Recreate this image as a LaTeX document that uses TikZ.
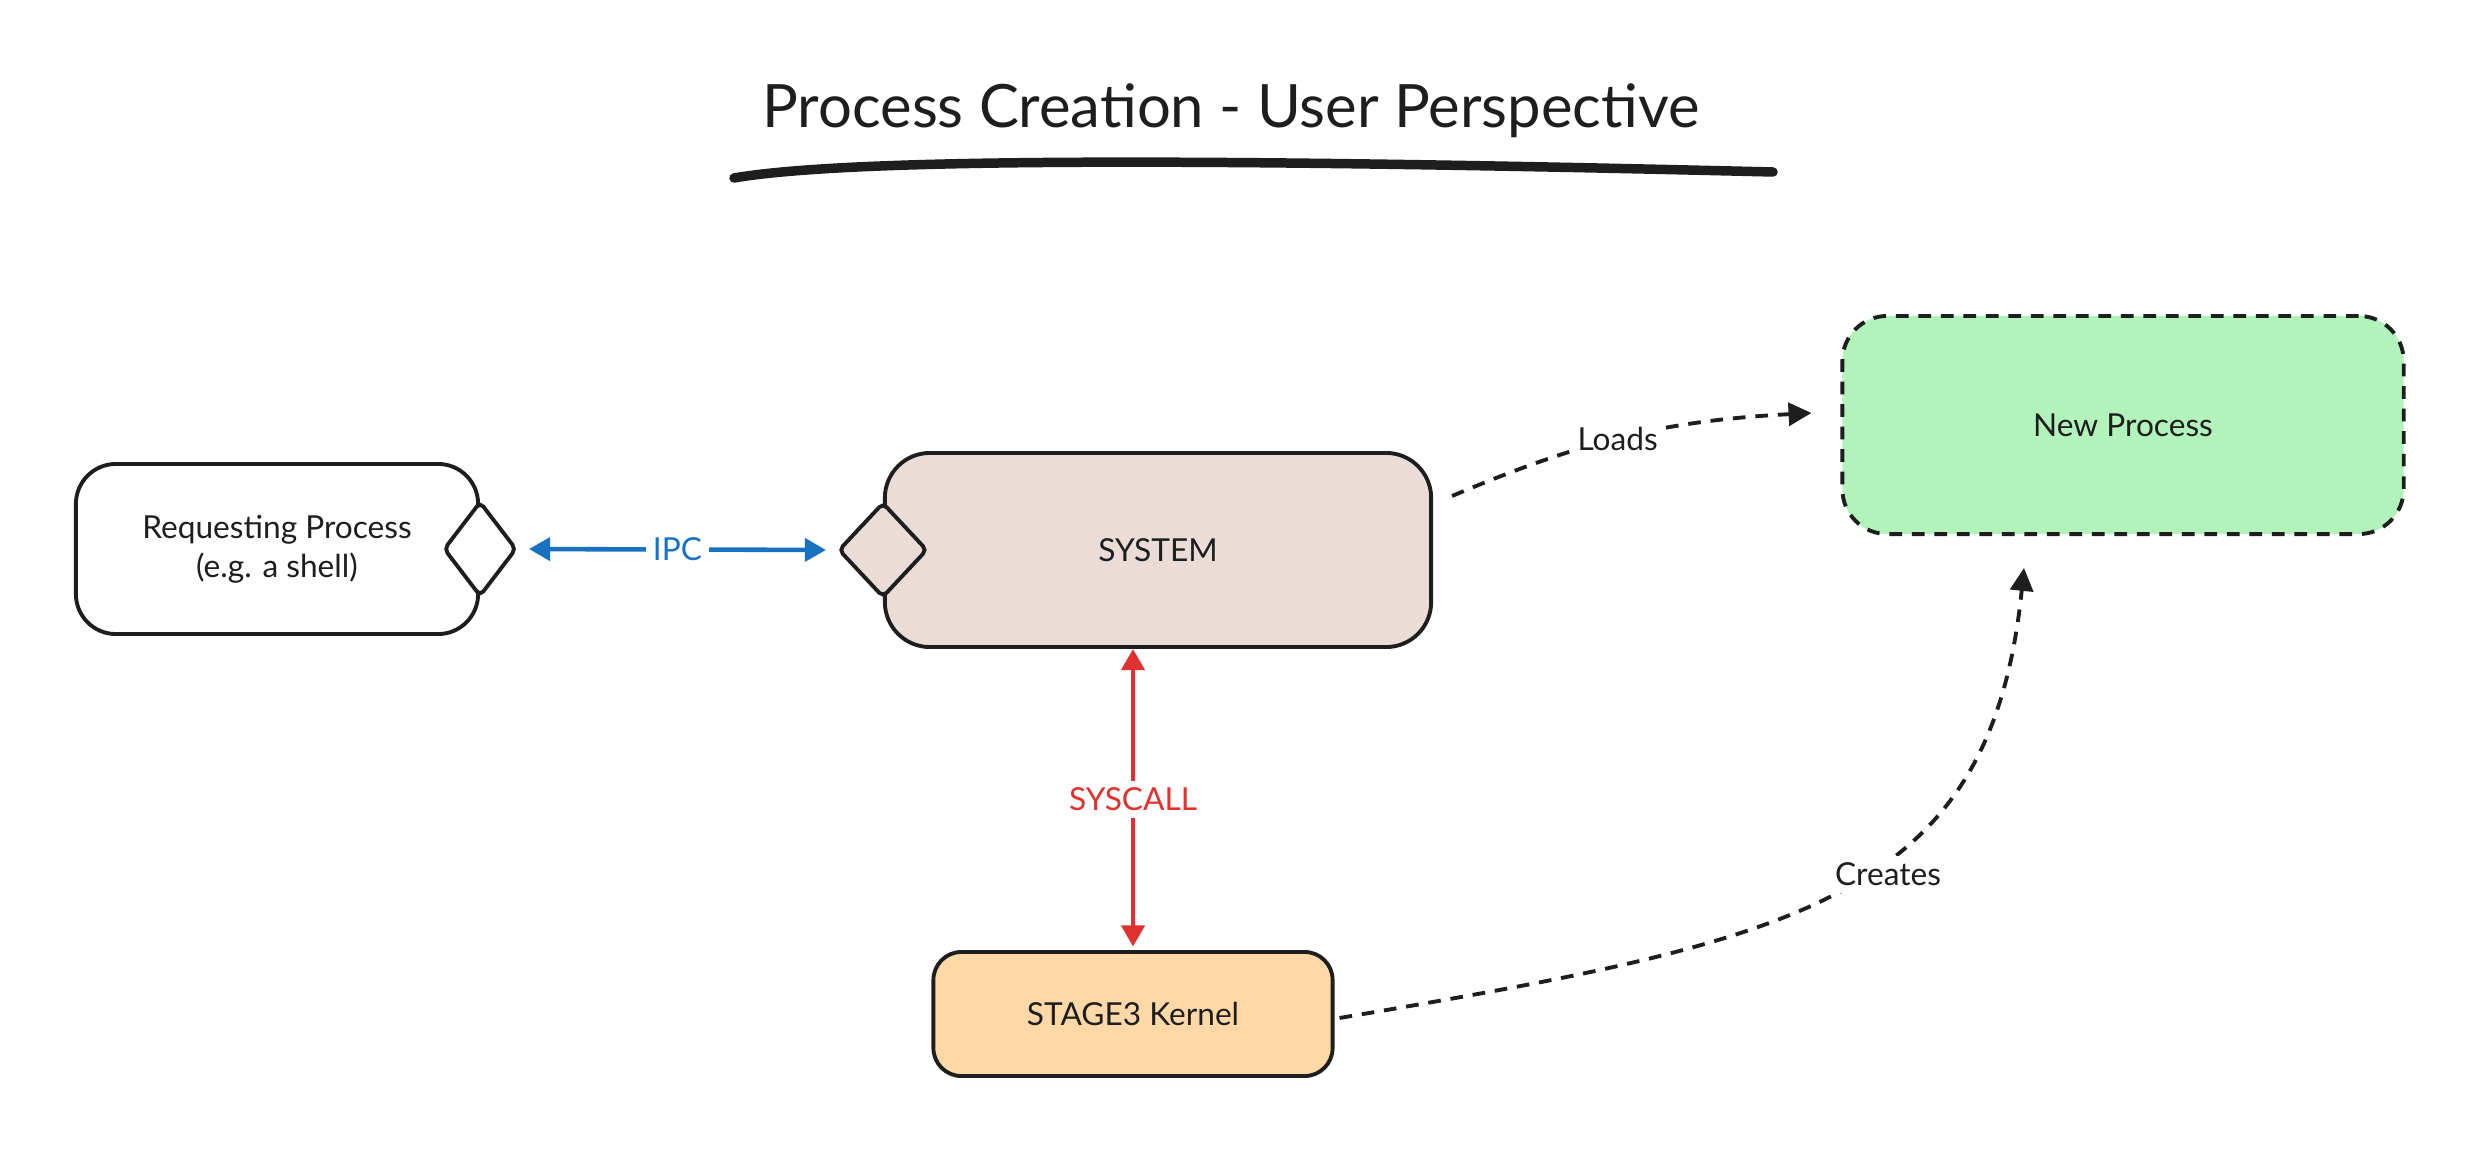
\documentclass[tikz,border=0pt]{standalone}
\usepackage{fontspec}
\setmainfont{Lato}
\usepackage{tikz}
\usetikzlibrary{arrows.meta,shapes.geometric,positioning}
\definecolor{ink}{HTML}{1E1E1E}
\definecolor{sysfill}{HTML}{EADDD7}
\definecolor{newfill}{HTML}{B2F2BB}
\definecolor{kernfill}{HTML}{FFD8A8}
\definecolor{ipcblue}{HTML}{1971C2}
\definecolor{callred}{HTML}{E03131}

\begin{document}
\begin{tikzpicture}[x=0.01cm,y=-0.01cm,
    procbox/.style={draw=ink,line width=1.1pt,align=center,inner sep=0pt,font=\fontsize{9}{11}\selectfont,text=ink},
    portmark/.style={diamond,draw=ink,line width=1.1pt,inner sep=0pt,rounded corners=1.5pt},
    onetip/.style={-{Triangle[length=6.5pt,width=6.5pt]}},
    twotips/.style={{Triangle[length=6pt,width=6.5pt]}-{Triangle[length=6pt,width=6.5pt]}},
    loaddash/.style={draw=ink,line width=1.1pt,dash pattern=on 3.6pt off 2.8pt},
    lbl/.style={fill=white,inner sep=2pt,font=\fontsize{9}{11}\selectfont}]
            \useasboundingbox[fill=white] (0,0) rectangle (2491,1170);
            %\draw[help lines] (0,0) grid[step=1cm] (2491,1170);
            \node[font=\fontsize{17}{20}\selectfont,text=ink] (title) at (1231,111) {Process Creation - User Perspective};
            \draw[ink,line width=2.7pt,line cap=round] (734,178) .. controls (850,158) and (1200,158) .. (1773,172);

            \node[procbox,fill=white,rounded corners=0.4cm,minimum width=4.02cm,minimum height=1.70cm] (req) at (277,549) {Requesting Process\\(e.g. a shell)};
            \node[portmark,fill=white,minimum width=0.73cm,minimum height=0.95cm] (reqport) at (req.east) {};
            \node[procbox,fill=sysfill,rounded corners=0.45cm,minimum width=5.46cm,minimum height=1.94cm] (system) at (1158,550) {SYSTEM};
            \node[portmark,fill=sysfill,minimum width=0.89cm,minimum height=0.95cm] (sysport) at (system.west) {};
            \node[procbox,fill=newfill,rounded corners=0.45cm,dash pattern=on 3.6pt off 2.8pt,minimum width=5.61cm,minimum height=2.18cm] (newproc) at (2123,425) {New Process};
            \node[procbox,fill=kernfill,rounded corners=0.28cm,minimum width=3.99cm,minimum height=1.24cm] (kernel) at (1133,1014) {STAGE3 Kernel};

            \draw[ipcblue,line width=1.3pt,twotips,shorten <=3pt,shorten >=3pt] (reqport.east) -- (sysport.west)
                node[lbl,midway,text=ipcblue] {IPC};
            \draw[callred,line width=1.3pt,twotips,shorten >=1pt] (kernel.north |- system.south) -- (kernel.north)
                node[lbl,midway,text=callred] {SYSCALL};
            \draw[loaddash,onetip] ([shift={(19,-54)}]system.east) to[bend left=10]
                node[lbl,pos=0.47,text=ink] {Loads} ([shift={(-29,-12)}]newproc.west);
            \draw[loaddash,onetip] ([shift={(5,4)}]kernel.east) .. controls (1800,940) and (1990,900) ..
                node[lbl,pos=0.57,xshift=1pt,yshift=-4pt,text=ink] {Creates} ([shift={(-99,32)}]newproc.south);
        \end{tikzpicture}
\end{document}
